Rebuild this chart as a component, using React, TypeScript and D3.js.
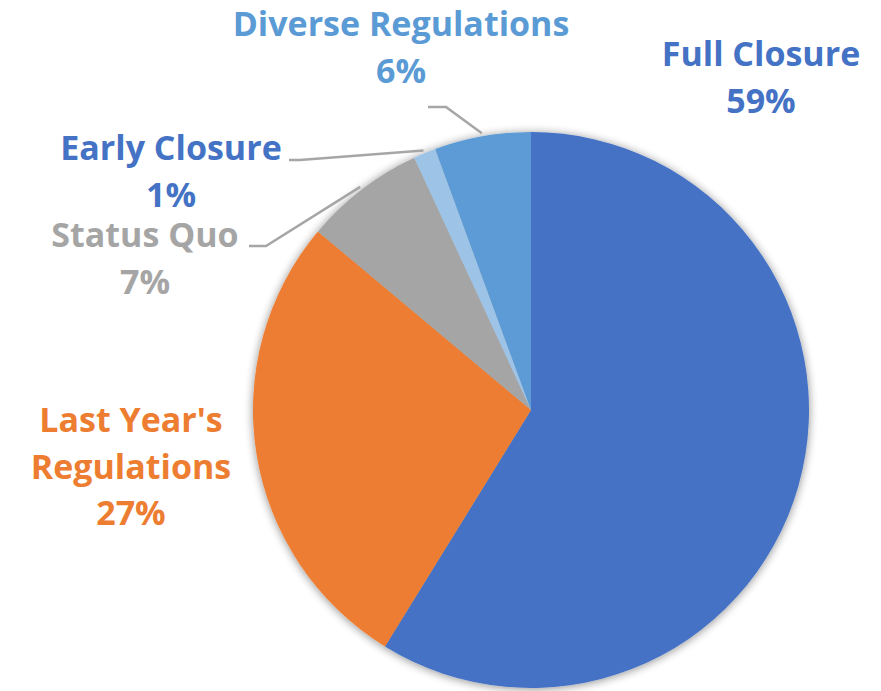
import React from "react";
import * as d3 from "d3";

const categories = ["Full Closure", "Last Year's Regulations", "Status Quo", "Early Closure", "Diverse Regulations"];
const values = [58.8, 27.3, 7.0, 1.3, 5.6];
const percentLabels = ["59%", "27%", "7%", "1%", "6%"];
const sliceColors = ["#4472C4", "#ED7D31", "#A5A5A5", "#9DC3E6", "#5B9BD5"];
const labelColors = ["#4472C4", "#ED7D31", "#A5A5A5", "#4472C4", "#5B9BD5"];

// label layout: text lines, center x, first baseline y, leader start & elbow
const labelLayout = [
  { lines: ["Full Closure", "59%"], x: 761, y: 66, leader: null },
  { lines: ["Last Year's", "Regulations", "27%"], x: 131, y: 432, leader: null },
  { lines: ["Status Quo", "7%"], x: 145, y: 247, leader: { x0: 249, y0: 246, x1: 266 } },
  { lines: ["Early Closure", "1%"], x: 171, y: 160, leader: { x0: 289, y0: 160, x1: 300 } },
  { lines: ["Diverse Regulations", "6%"], x: 401, y: 36, leader: { x0: 428, y0: 107, x1: 446 } },
];

const W = 881;
const H = 691;
const cx = 531;
const cy = 410;
const R = 278;
const lineH = 46.5;

export default function App() {
  const pie = d3.pie<number>().sort(null).value((d) => d)(values);
  const arc = d3.arc<d3.PieArcDatum<number>>().innerRadius(0).outerRadius(R);

  return (
    <svg width={W} height={H} style={{ position: "absolute", left: 0, top: 0, background: "#fff" }}>
      <defs>
        <filter id="shadow" x="-20%" y="-20%" width="140%" height="140%">
          <feGaussianBlur in="SourceAlpha" stdDeviation="5" />
          <feOffset dx="0" dy="1" result="b" />
          <feComponentTransfer>
            <feFuncA type="linear" slope="0.45" />
          </feComponentTransfer>
          <feMerge>
            <feMergeNode />
            <feMergeNode in="SourceGraphic" />
          </feMerge>
        </filter>
      </defs>
      <g transform={`translate(${cx},${cy})`} filter="url(#shadow)">
        {pie.map((p, i) => (
          <path key={i} d={arc(p) || ""} fill={sliceColors[i]} />
        ))}
      </g>
      {pie.map((p, i) => {
        const L = labelLayout[i];
        if (!L.leader) return null;
        const mid = (p.startAngle + p.endAngle) / 2;
        const rr = R + 3;
        const ex = cx + rr * Math.sin(mid);
        const ey = cy - rr * Math.cos(mid);
        return (
          <polyline
            key={"l" + i}
            points={`${L.leader.x0},${L.leader.y0} ${L.leader.x1},${L.leader.y0} ${ex},${ey}`}
            fill="none"
            stroke="#A6A6A6"
            strokeWidth={2.5}
          />
        );
      })}
      {labelLayout.map((L, i) => (
        <text
          key={"t" + i}
          x={L.x}
          y={L.y}
          textAnchor="middle"
          fill={labelColors[i]}
          style={{ fontFamily: "'Open Sans', 'Noto Sans', sans-serif", fontWeight: 700, fontSize: 34 }}
        >
          {L.lines.map((ln, j) => (
            <tspan key={j} x={L.x} y={L.y + j * lineH}>
              {ln}
            </tspan>
          ))}
        </text>
      ))}
      {categories.length === 0 ? null : null}
      {percentLabels.length === 0 ? null : null}
    </svg>
  );
}
